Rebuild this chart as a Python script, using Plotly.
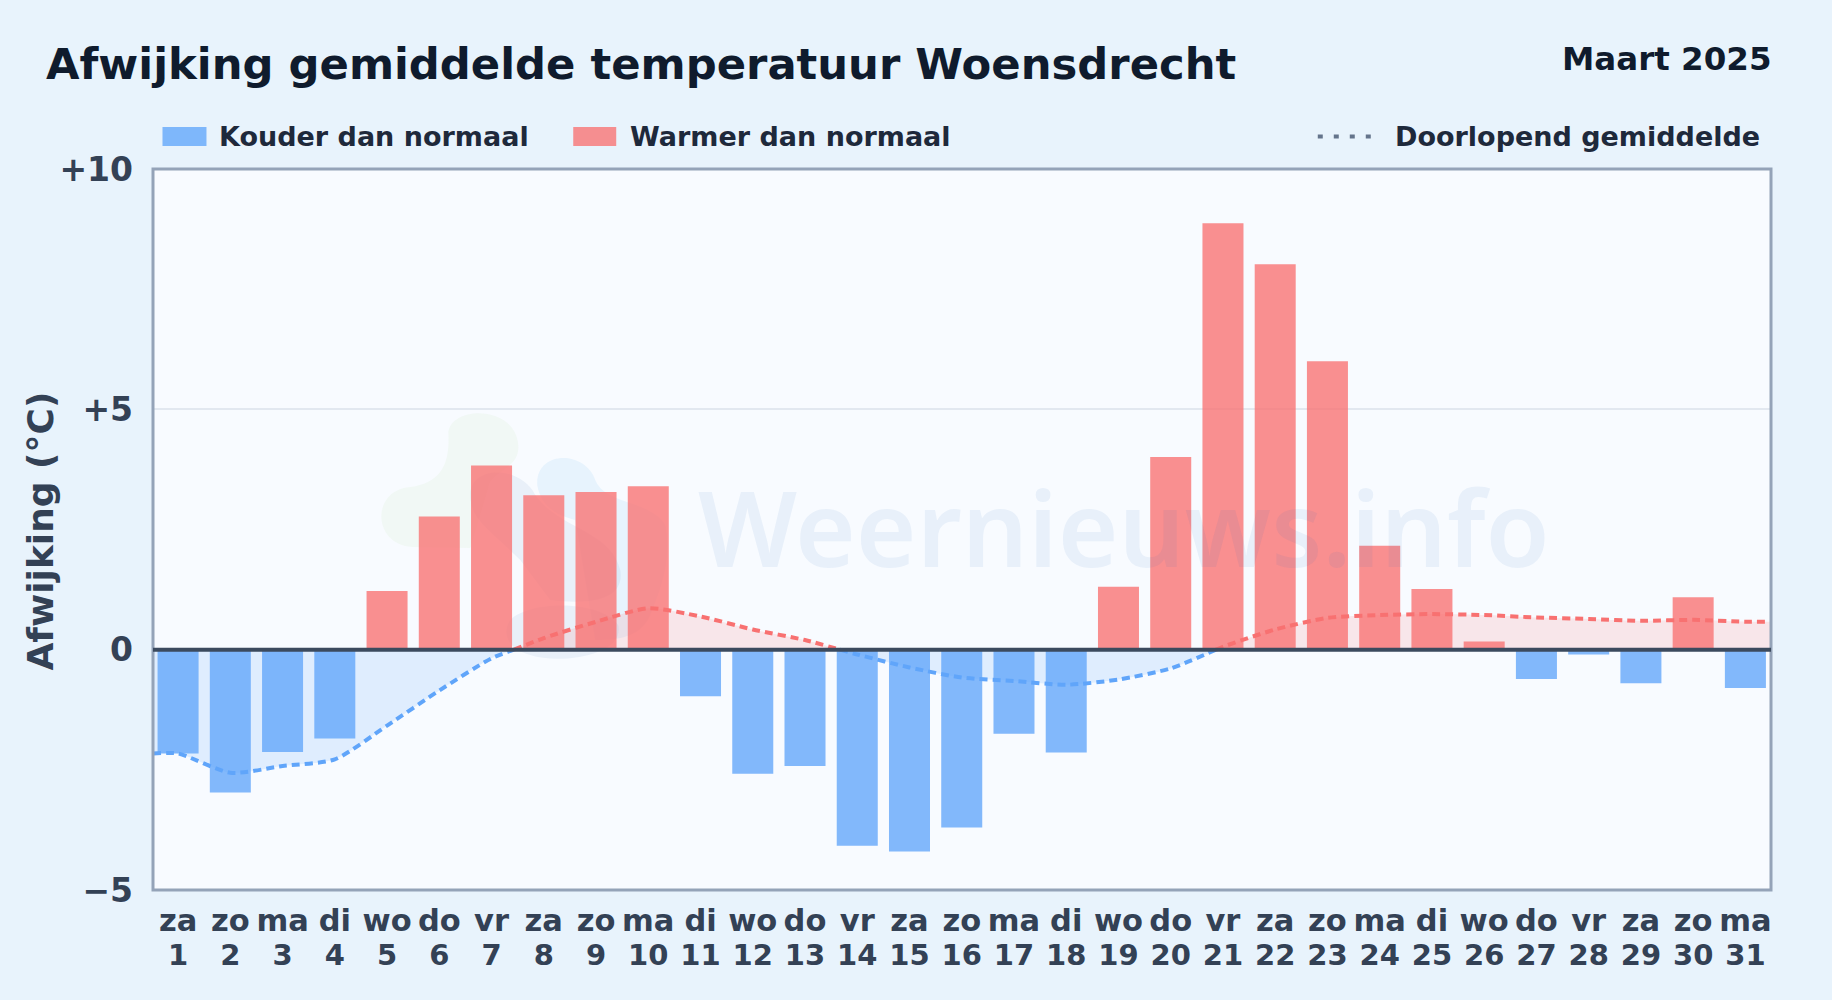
import plotly.graph_objects as go

weekdays = ["za","zo","ma","di","wo","do","vr","za","zo","ma","di","wo","do","vr","za","zo","ma","di","wo","do","vr","za","zo","ma","di","wo","do","vr","za","zo","ma"]
days = list(range(1, 32))
anomaly = [-2.16,-2.97,-2.13,-1.85,1.22,2.77,3.83,3.21,3.28,3.40,-0.97,-2.58,-2.42,-4.08,-4.20,-3.70,-1.75,-2.14,1.31,4.01,8.87,8.02,6.00,2.16,1.26,0.17,-0.61,-0.10,-0.70,1.09,-0.80]
running = [-2.16,-2.56,-2.42,-2.28,-1.58,-0.85,-0.18,0.24,0.58,0.86,0.69,0.42,0.20,-0.10,-0.37,-0.58,-0.65,-0.73,-0.62,-0.39,0.06,0.42,0.66,0.72,0.74,0.72,0.67,0.64,0.60,0.62,0.58]
y_ticks = [-5, 0, 5, 10]
y_tick_labels = ["−5", "0", "+5", "+10"]
title_text = "Afwijking gemiddelde temperatuur Woensdrecht"
period_text = "Maart 2025"
legend_cold = "Kouder dan normaal"
legend_warm = "Warmer dan normaal"
legend_mean = "Doorlopend gemiddelde"
y_title = "Afwijking (°C)"
watermark = "Weernieuws.info"

W, H = 1832, 1000
L, R, T, B = 152.5, 1771.5, 169, 890
XRANGE = [0.52, 31.49]
BLUE, RED = "#60a5fa", "#f87171"
BAR_BLUE, BAR_RED = "rgba(96,165,250,0.78)", "rgba(248,113,113,0.78)"
FILL_BLUE, FILL_RED = "rgba(96,165,250,0.16)", "rgba(248,113,113,0.15)"
FONT = "DejaVu Sans"

# "paper" coordinates run over the plot area, so convert page pixels to them
def px(x): return (x - L) / (R - L)
def py(y): return (B - y) / (B - T)

# split the running mean where it changes sign
def segments(xs, ys):
    out, cx, cy = [], [xs[0]], [ys[0]]
    for i in range(1, len(xs)):
        if ys[i - 1] * ys[i] < 0:
            t = ys[i - 1] / (ys[i - 1] - ys[i])
            xc = xs[i - 1] + t * (xs[i] - xs[i - 1])
            cx.append(xc); cy.append(0)
            out.append((cx, cy))
            cx, cy = [xc], [0]
        cx.append(xs[i]); cy.append(ys[i])
    out.append((cx, cy))
    return out

xs = [XRANGE[0]] + days + [XRANGE[1]]
ys = [running[0]] + running + [running[-1]]
segs = segments(xs, ys)

fig = go.Figure()
for sx, sy in segs:
    neg = min(sy) < 0
    fig.add_trace(go.Scatter(x=sx, y=sy, mode="lines", fill="tozeroy",
                             fillcolor=FILL_BLUE if neg else FILL_RED,
                             line=dict(width=0, shape="spline", smoothing=0.7),
                             hoverinfo="skip", showlegend=False))
fig.add_trace(go.Bar(x=days, y=anomaly, width=0.785, xaxis="x2", yaxis="y2",
                     marker=dict(color=[BAR_BLUE if v < 0 else BAR_RED for v in anomaly], line=dict(width=0)),
                     showlegend=False))
for sx, sy in segs:
    neg = min(sy) < 0
    fig.add_trace(go.Scatter(x=sx, y=sy, mode="lines", xaxis="x2", yaxis="y2",
                             line=dict(color=BLUE if neg else RED, width=4, shape="spline", smoothing=0.7, dash="8px,5px"),
                             hoverinfo="skip", showlegend=False))

# faint watermark logo
def blob(d, color):
    return dict(type="path", path=d, xref="paper", yref="paper", fillcolor=color, line=dict(width=0), layer="below")

def P(*pairs):
    parts = []
    for p in pairs:
        if isinstance(p, str):
            parts.append(p)
        else:
            parts.append(f"{px(p[0]):.5f},{py(p[1]):.5f}")
    return " ".join(parts)

shapes = [
    blob(P("M", (448, 432), "C", (452, 405), (515, 405), (518, 445), "C", (520, 470), (490, 470), (488, 488), "L", (470, 548), "L", (412, 547), "C", (372, 545), (370, 490), (410, 487), "C", (440, 483), (450, 465), (448, 432), "Z"), "rgba(170,215,130,0.08)"),
    blob(P("M", (537, 485), "C", (535, 450), (585, 450), (595, 480), "C", (605, 505), (650, 500), (665, 525), "C", (672, 560), (660, 590), (650, 615), "C", (640, 640), (610, 640), (595, 640), "L", (575, 520), "C", (555, 515), (540, 505), (537, 485), "Z"), "rgba(100,180,240,0.11)"),
    blob(P("M", (470, 495), "C", (470, 465), (520, 465), (535, 495), "C", (560, 530), (610, 530), (620, 570), "C", (625, 600), (590, 605), (550, 600), "L", (520, 560), "C", (490, 530), (470, 520), (470, 495), "Z"), "rgba(90,130,190,0.09)"),
    blob(P("M", (510, 620), "C", (530, 600), (600, 600), (618, 625), "C", (625, 655), (560, 665), (530, 655), "C", (510, 650), (500, 635), (510, 620), "Z"), "rgba(90,130,190,0.09)"),
]

# legend swatches, plot frame and the thick zero line
shapes += [
    dict(type="rect", xref="paper", yref="paper", x0=px(162), x1=px(206), y0=py(127), y1=py(146), fillcolor=BAR_BLUE, line=dict(width=0)),
    dict(type="rect", xref="paper", yref="paper", x0=px(573), x1=px(616), y0=py(127), y1=py(146), fillcolor=BAR_RED, line=dict(width=0)),
    dict(type="line", xref="paper", yref="paper", x0=px(1318), x1=px(1374), y0=py(136.5), y1=py(136.5), line=dict(color="#64748b", width=4, dash="5px,11px")),
    dict(type="rect", xref="paper", yref="paper", x0=0, x1=1, y0=0, y1=1, line=dict(color="#94a3b8", width=3), layer="above"),
    dict(type="line", xref="paper", yref="y", x0=0, x1=1, y0=0, y1=0, line=dict(color="#3b4a5e", width=4), layer="above"),
]

def note(text, x, y, size, color, xanchor="left", family=FONT, weight="bold", angle=0):
    return dict(text=text, x=px(x), y=py(y), xref="paper", yref="paper", xanchor=xanchor, yanchor="middle",
                showarrow=False, textangle=angle, font=dict(family=family, size=size, color=color, weight=weight))

annotations = [
    note(title_text, 43, 64, 43.3, "#0f1b2d"),
    note(period_text, 1774.5, 59, 32.5, "#0f1b2d", xanchor="right"),
    note(legend_cold, 216.5, 136, 27, "#1e293b"),
    note(legend_warm, 627.5, 136, 27, "#1e293b"),
    note(legend_mean, 1393, 136, 27, "#1e293b"),
    note(watermark, 1124, 526.5, 104, "rgba(40,110,190,0.075)", xanchor="center", family="Noto Sans", weight=600),
    note(y_title, 39, 531, 36, "#334155", xanchor="center", angle=-90),
]

fig.update_layout(
    width=W, height=H, autosize=False,
    margin=dict(l=L, r=W - R, t=T, b=H - B, pad=0),
    paper_bgcolor="#e8f3fc", plot_bgcolor="#f8fbff",
    showlegend=False, barmode="overlay", shapes=shapes, annotations=annotations,
    font=dict(family=FONT),
    xaxis=dict(range=XRANGE, tickmode="array", tickvals=days, ticktext=weekdays,
               tickfont=dict(family=FONT, size=30.5, color="#334155", weight="bold"),
               ticks="", ticklabelstandoff=9, showgrid=False, zeroline=False, showline=False, tickangle=0),
    yaxis=dict(range=[-5, 10], tickmode="array", tickvals=y_ticks, ticktext=y_tick_labels,
               tickfont=dict(family=FONT, size=33, color="#334155", weight="bold"), ticks="",
               ticklabelstandoff=19,
               showgrid=True, gridcolor="#e2e8f0", gridwidth=2, zeroline=False, showline=False),
    xaxis2=dict(range=XRANGE, overlaying="x", side="bottom", anchor="y2", tickmode="array", tickvals=days,
                ticktext=[str(d) for d in days], showgrid=False, zeroline=False, showline=False,
                ticks="outside", ticklen=39, tickcolor="rgba(0,0,0,0)", tickangle=0,
                tickfont=dict(family=FONT, size=29, color="#334155", weight="bold")),
    yaxis2=dict(range=[-5, 10], overlaying="y", visible=False),
)

fig.write_html("out.html", config=dict(displayModeBar=False),
               post_script="document.body.style.margin='0';document.body.style.background='#e8f3fc';window.dispatchEvent(new Event('resize'));")
